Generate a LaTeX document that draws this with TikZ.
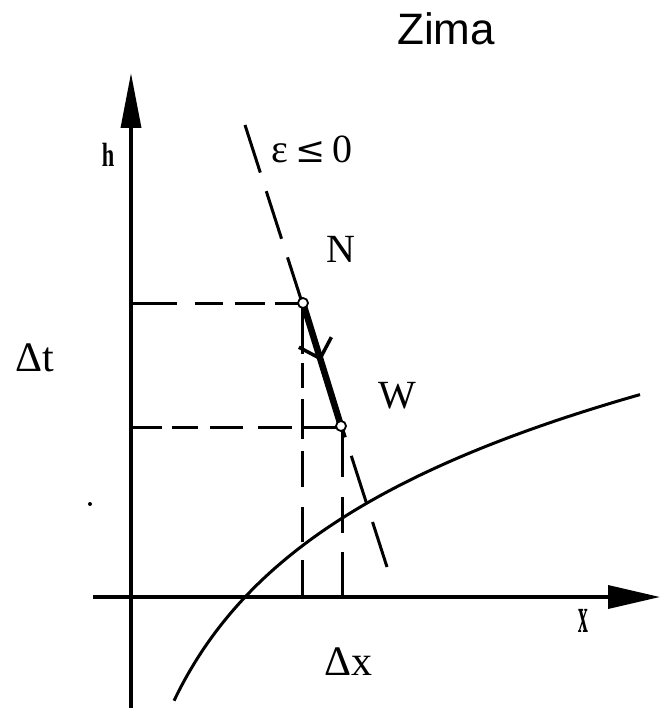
\documentclass[tikz,border=0pt]{standalone}
\usepackage{fontspec}
\setmainfont{Liberation Serif}
\newfontfamily\sansf{Liberation Sans}
\newfontfamily\symf{DejaVu Serif}
\usetikzlibrary{arrows.meta,decorations.markings}
\begin{document}
\begin{tikzpicture}[x=1pt,y=-1pt,
  axisline/.style={line width=3.5pt},
  dashline/.style={line width=3pt},
  curveline/.style={line width=3pt},
  thickseg/.style={line width=6.5pt},
  ptcircle/.style={draw, fill=white, circle, line width=1.8pt, minimum size=10pt, inner sep=0pt},
  biglabel/.style={anchor=base, inner sep=0pt, font=\fontsize{40}{42}\selectfont},
  dlabel/.style={anchor=base, inner sep=0pt, font=\fontsize{42}{44}\selectfont},
  smalllabel/.style={anchor=base, inner sep=0pt, font=\fontsize{28}{30}\selectfont\bfseries}
]
\useasboundingbox (0,0) rectangle (660,708);
\fill[white] (0,0) rectangle (660,708);

% coordinates
\coordinate (O) at (131,597);
\coordinate (Ytop) at (131,73);
\coordinate (Ybot) at (131,708);
\coordinate (Xleft) at (93,597);
\coordinate (Xright) at (660,597);
\coordinate (N) at (303,303);
\coordinate (W) at (341,426);
\coordinate (Nax) at (131,303);
\coordinate (Wax) at (131,427);
\coordinate (Nb) at (302,597);
\coordinate (Nt) at (302,303);
\coordinate (Wt) at (342,427);
\coordinate (Wb) at (342,597);
\coordinate (Wh) at (342,427);
\coordinate (E1) at (245,125);
\coordinate (E2) at (387,567);

% title
\node[anchor=base, inner sep=0pt, font=\sansf\fontsize{44}{46}\selectfont] (title) at (446,45) {Zima};

% axes
\draw[axisline, -{Triangle[length=55pt,width=20pt]}] (Ybot) -- (Ytop);
\draw[axisline, -{Triangle[length=52pt,width=23pt]}] (Xleft) -- (Xright);

% dashed guides
\draw[dashline, dash pattern=on 27pt off 10pt on 30pt off 12pt on 28pt off 18pt on 46pt] (Nt) -- (Nax);
\draw[dashline, dash pattern=on 40pt off 10pt on 34pt off 15pt on 33pt off 12pt on 26pt off 10pt on 31pt] (Wh) -- (Wax);
\draw[dashline, dash pattern=on 37pt off 18pt on 35pt off 20pt on 36pt off 12pt on 40pt off 11pt on 25pt off 9pt on 52pt] (Nb) -- (Nt);
\draw[dashline, dash pattern=on 50pt off 20pt on 36pt off 19pt on 46pt] (Wt) -- (Wb);

% sloping dashed line
\draw[dashline, dash pattern=on 50pt off 19.5pt] (E1) -- (E2);

% curve
\draw[curveline] plot[domain=174:640, samples=90, smooth] (\x, {1363.5 - 154*ln(\x-100)});

% thick segment N -> W with chevron
\draw[thickseg, postaction={decorate},
  decoration={markings, mark=at position 0.47 with {\arrow[line width=3.5pt]{Straight Barb[length=17pt,width=34pt]}}}]
  (N) -- (W);
\node[ptcircle] (Ncirc) at (N) {};
\node[ptcircle] (Wcirc) at (W) {};

% dot artifact
\fill (90,504) circle (2pt);

% labels
\node[biglabel] (eps) at (312,163) {ε\,{\symf\fontsize{36}{38}\selectfont ≤}\,0};
\node[biglabel] (Nlab) at (341,262) {N};
\node[biglabel] (Wlab) at (397,408) {W};
\node[dlabel] (dt) at (35,371) {Δt};
\node[dlabel] (dx) at (348,675) {Δx};
\node[smalllabel] (hlab) at (108,167) {\scalebox{0.8}[1.2]{h}};
\node[smalllabel] (xlab) at (583,632) {\scalebox{0.7}[1.8]{x}};
\end{tikzpicture}
\end{document}
